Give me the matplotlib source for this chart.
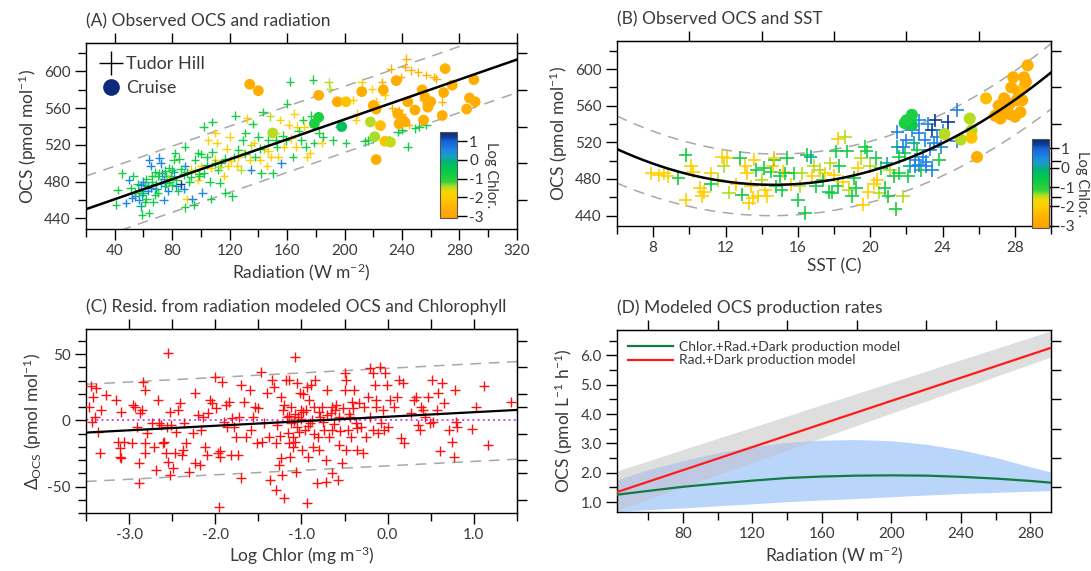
import numpy as np
import matplotlib
matplotlib.use('Agg')
import matplotlib.pyplot as plt
from matplotlib.colors import LinearSegmentedColormap, Normalize
from matplotlib.cm import ScalarMappable
from matplotlib.lines import Line2D
from matplotlib.ticker import MultipleLocator, NullFormatter, FormatStrFormatter

plt.rcParams['font.family'] = ['Lato', 'DejaVu Sans']
plt.rcParams['mathtext.fontset'] = 'custom'
plt.rcParams['mathtext.rm'] = 'Lato'
plt.rcParams['mathtext.it'] = 'Lato:italic'
plt.rcParams['axes.unicode_minus'] = False
TXT = '#3a3a3a'

# ---- panel A: Tudor Hill crosses (radiation, OCS, log chlor)
tudor_a = [
    (41, 455, -0.8), (42, 471, -0.8), (45, 489, -0.9), (48, 457, 0.55), (50, 482, 0.5), (51, 473, -0.7),
    (53, 486, -0.8), (54, 464, 0.6), (56, 477, -0.8), (57, 460, 0.5), (58, 453, 0.05), (59, 444, -0.8),
    (60, 468, -0.7), (62, 461, -0.9), (63, 475, 0.1), (64, 446, -0.8), (64, 504, 0.55), (65, 497, 0.6),
    (66, 486, -0.8), (68, 466, -0.7), (69, 477, -0.8), (70, 486, -0.9), (71, 506, 0.5), (72, 500, 0.55),
    (73, 489, 0.6), (74, 460, 0.5), (75, 475, 0.05), (76, 486, -0.8), (77, 470, 0.55), (78, 480, -0.7),
    (80, 493, -0.8), (81, 504, -0.9), (82, 511, -0.8), (83, 475, 0.5), (84, 470, -0.8), (86, 477, 1.25),
    (88, 488, -0.8), (89, 497, 0.55), (89, 518, -0.7), (89, 452, -0.8), (90, 461, -2.0), (92, 480, -0.8),
    (93, 493, -2.0), (94, 461, 0.55), (95, 455, -0.8), (96, 504, -0.8), (98, 511, -0.7), (98, 482, -2.0),
    (99, 486, -0.9), (100, 497, -2.0), (101, 468, 0.5), (102, 540, -0.8), (102, 489, -0.8), (104, 507, -0.8),
    (105, 525, -2.0), (106, 480, -0.8), (107, 495, -2.0), (107, 461, -0.8), (108, 545, -0.8), (110, 533, -2.0),
    (110, 504, -2.0), (111, 522, -2.0), (112, 493, -0.8), (113, 479, -0.8), (114, 500, -0.8), (116, 486, -2.0),
    (117, 468, -0.8), (118, 516, -2.0), (119, 497, -2.0), (120, 529, -2.0), (122, 464, -0.8), (123, 507, -0.8),
    (124, 552, -0.8), (125, 497, -2.0), (126, 507, -2.0), (128, 493, -1.45), (129, 525, -0.8), (130, 511, -2.0),
    (131, 533, -0.8), (132, 549, -2.0), (134, 504, -2.0), (135, 493, 0.55), (136, 543, -0.8), (137, 522, -2.0),
    (138, 507, -0.8), (140, 529, -0.8), (141, 504, -2.0), (142, 489, -0.8), (143, 556, -0.8), (144, 516, -1.45),
    (146, 497, -2.0), (147, 525, -0.8), (148, 551, -1.45), (149, 507, -2.0), (150, 489, -0.8), (152, 533, -2.0),
    (153, 518, -0.8), (154, 507, -2.0), (155, 547, -2.0), (156, 500, 0.55), (158, 518, -2.0), (159, 525, -0.8),
    (160, 565, -0.8), (161, 542, -2.0), (162, 589, -0.8), (164, 507, -0.8), (165, 554, -2.0), (166, 518, -2.0),
    (167, 540, -2.0), (170, 525, -0.8), (171, 547, -0.8), (172, 540, -2.0), (173, 518, -0.8), (174, 507, -2.0),
    (176, 511, -2.0), (177, 552, -0.8), (178, 591, -0.8), (179, 522, -0.8), (182, 533, -0.8), (184, 522, -2.0),
    (185, 529, -0.8), (189, 588, -1.45), (190, 581, -1.45), (192, 525, -0.8), (196, 540, -0.8), (201, 522, -0.8),
    (206, 569, -2.0), (208, 547, -2.0), (209, 554, -2.0), (212, 588, -2.0), (214, 524, -0.8), (216, 525, -0.8),
    (219, 581, -2.0), (220, 527, -0.8), (222, 567, -2.0), (226, 588, -2.6), (228, 574, -2.0), (232, 603, -2.6),
    (233, 560, -2.6), (237, 534, -0.8), (238, 558, -2.6), (239, 594, -2.6), (240, 536, -0.8), (242, 605, -2.6),
    (243, 614, -2.6), (244, 518, -0.8), (245, 542, -2.6), (246, 601, -2.6), (249, 538, -0.8), (251, 599, -2.6),
    (252, 540, -0.8), (255, 569, -2.6), (257, 596, -2.6), (258, 569, -2.6), (257, 542, -0.8), (262, 594, -2.6),
    (264, 592, -2.6), (268, 567, -2.6), (240, 554, -2.6),
    (57, 470, -0.8), (59, 466, 0.05), (61, 476, -0.8), (63, 470, 0.55), (66, 480, -0.8), (69, 472, 0.05),
    (71, 489, -0.8), (74, 483, 0.55), (76, 478, -0.8), (79, 486, -0.8), (81, 490, 0.05), (83, 482, -0.8),
    (86, 494, -0.8), (90, 490, -0.8), (93, 485, -0.8), (96, 492, -1.45), (99, 488, -0.8), (104, 498, -0.8),
    (110, 500, -0.8), (113, 496, -1.45), (117, 505, -0.8), (121, 503, -2.0), (126, 515, -0.8), (131, 510, -0.8),
    (135, 520, -1.45), (141, 516, -0.8), (147, 513, -2.0), (152, 525, -0.8), (157, 530, -0.8), (163, 527, -2.0),
    (168, 535, -0.8), (60, 480, 0.55), (54, 468, -0.8), (52, 462, 0.55), (67, 458, -0.8), (78, 495, -0.8),
    (85, 505, -0.8), (88, 472, 0.55), (100, 510, -0.8), (108, 512, -0.8),
    (62, 483, -0.8), (65, 473, 0.55), (68, 490, -0.8), (70, 468, -0.8), (72, 478, 0.05), (75, 492, -0.8),
    (77, 484, -1.45), (80, 476, -0.8), (58, 476, 0.55), (61, 458, -0.8),
]

# ---- panel A: cruise circles (radiation, OCS, log chlor)
cruise_a = [
    (134, 586, -2.7), (140, 579, -2.7), (182, 574, -2.7), (195, 567, -2.8), (201, 567, -2.2), (212, 578, -2.7),
    (220, 563, -2.7), (222, 559, -2.7), (227, 580, -2.7), (225, 541, -2.3), (236, 590, -2.8), (237, 554, -2.7),
    (238, 543, -2.7), (240, 548, -2.7), (244, 567, -2.7), (249, 558, -2.7), (254, 580, -2.7), (256, 572, -2.7),
    (260, 567, -2.7), (258, 561, -2.7), (255, 547, -2.7), (270, 603, -2.6), (269, 577, -2.7), (268, 552, -2.7),
    (275, 585, -2.6), (290, 591, -2.7), (287, 571, -2.7), (285, 559, -2.7), (291, 567, -2.7), (222, 504, -2.7),
    (228, 524, -2.2), (232, 523, -1.5), (218, 545, -1.45), (221, 529, -1.4), (198, 540, -0.3), (179, 543, -0.9),
    (182, 550, -0.9), (150, 533, -1.45), (242, 545, -2.7), (258, 565, -2.7),
]
fit_a_x = [20, 320]
fit_a_y = [450.0, 612.9]
band_a = 36.0

# ---- panel B: Tudor Hill crosses (SST, OCS, log chlor)
tudor_b = [
    (7.9, 486, -2.0), (8.3, 484, -2.0), (8.6, 486, -2.0), (8.8, 483, -2.0), (9.4, 481, -0.8), (9.8, 506, -0.8),
    (9.8, 457, -2.0), (10.1, 494, -2.0), (10.2, 488, -2.0), (10.6, 470, -2.0), (10.7, 461, -2.0), (10.8, 466, -2.0),
    (11.2, 474, -0.8), (11.2, 486, -2.0), (11.6, 479, -1.45), (11.8, 504, -2.0), (11.9, 494, -1.45), (12.1, 503, -2.0),
    (12.2, 465, -1.45), (12.6, 474, -2.0), (12.8, 503, -0.8), (12.9, 463, -0.8), (13.1, 494, -2.0), (13.2, 486, -2.0),
    (13.3, 454, -2.0), (13.4, 472, -2.0), (13.5, 459, -2.0), (13.6, 501, -2.0), (13.7, 490, -0.8), (13.8, 461, -2.0),
    (14.0, 479, -1.45), (14.1, 492, -0.8), (14.2, 468, -2.0), (14.3, 461, -2.0), (14.5, 488, -0.8), (14.6, 494, -2.0),
    (14.7, 501, -0.8), (14.7, 503, -2.0), (14.8, 472, -0.8), (15.0, 483, -0.8), (15.1, 468, -0.8), (15.2, 488, -2.0),
    (15.3, 486, -0.8), (15.4, 503, -0.8), (15.6, 474, -2.0), (15.8, 486, -0.8), (16.0, 457, -0.8), (16.1, 472, -1.45),
    (16.2, 486, -1.45), (16.4, 443, -0.8), (16.5, 506, -0.8), (16.7, 504, 0.05), (16.8, 483, -2.0), (16.9, 494, -1.45),
    (17.0, 472, -0.8), (17.2, 490, -1.45), (17.4, 479, -0.8), (17.5, 486, -2.0), (17.7, 466, -0.8), (17.8, 497, -1.45),
    (17.9, 465, -0.8), (18.0, 484, -2.0), (18.1, 510, -0.8), (18.2, 524, -2.0), (18.2, 472, -0.8), (18.3, 494, -0.8),
    (18.5, 477, -2.0), (18.6, 526, -1.45), (18.7, 510, -0.8), (18.8, 468, -1.45), (19.0, 461, -0.8), (19.1, 481, -0.8),
    (19.2, 470, -0.8), (19.3, 492, -2.0), (19.5, 503, -1.45), (19.6, 452, -2.0), (19.7, 515, -0.8), (19.8, 510, -0.8),
    (19.9, 466, -2.0), (20.0, 494, -1.45), (20.2, 475, -2.0), (20.3, 503, -0.8), (20.4, 479, -2.0), (20.5, 465, -1.45),
    (20.6, 492, -0.8), (20.8, 470, -0.8), (20.9, 497, 0.05), (21.0, 461, -0.8), (21.1, 490, -1.45), (21.3, 483, -0.8),
    (21.4, 447, -0.8), (21.5, 515, 0.05), (21.6, 504, -0.8), (21.6, 486, -0.8), (21.8, 461, -1.45), (21.9, 508, -0.8),
    (22.1, 483, -0.8), (22.2, 494, 0.05), (22.3, 533, 0.55), (22.4, 519, 0.05), (22.5, 501, 0.55), (22.6, 512, -0.8),
    (22.7, 530, 0.55), (22.7, 544, 0.55), (22.8, 490, -0.8), (22.9, 504, 0.55), (23.0, 522, 0.55), (23.1, 499, 0.55),
    (23.2, 540, 0.55), (23.3, 512, 0.55), (23.4, 533, 1.25), (23.5, 519, 0.55), (23.6, 544, 1.25), (23.7, 526, 0.55),
    (23.8, 501, -0.8), (23.9, 515, 0.55), (24.0, 533, 0.55), (24.3, 542, 1.25), (24.8, 555, 0.55), (24.8, 521, 0.55),
    (21.8, 515, 0.55), (21.5, 531, 0.55), (22.0, 522, 0.55), (22.5, 494, 0.55), (23.1, 494, 0.55), (23.4, 490, 0.55),
    (22.7, 495, 0.55),
]

# ---- panel B: cruise circles (SST, OCS, log chlor)
cruise_b = [
    (21.9, 541, -0.9), (22.3, 550, -0.9), (22.3, 539, -0.6), (22.0, 544, -0.9), (24.1, 529, -1.45), (25.0, 523, -1.45),
    (25.5, 546, -1.45), (25.6, 533, -1.45), (25.6, 525, -2.2), (25.9, 504, -2.7), (26.4, 568, -2.3), (26.9, 549, -2.7),
    (27.2, 546, -2.7), (27.3, 557, -2.7), (27.4, 568, -2.7), (27.7, 562, -2.7), (27.8, 580, -2.7), (27.9, 591, -2.7),
    (28.0, 548, -2.7), (28.1, 566, -2.7), (28.2, 575, -2.7), (28.3, 553, -2.7), (28.5, 591, -2.7), (28.5, 580, -2.3),
    (28.6, 586, -2.7), (28.7, 604, -2.6), (28.4, 566, -2.7), (27.7, 551, -2.7), (27.1, 560, -2.7),
]
fit_b_x = [6, 10, 14.65, 20, 24, 28, 30]
fit_b_y = [512.6, 484.9, 473.6, 488.5, 519.1, 566.4, 596.4]
upper_b_x = [6, 15, 30]
upper_b_y = [548.7, 507.2, 627.8]
lower_b_x = [6, 15, 30]
lower_b_y = [475.4, 440.0, 556.3]

# ---- panel C: residuals vs log chlor
resid_c = [
    (-3.46, 10.5), (-3.44, 26.1), (-3.42, 18), (-3.39, 2.9), (-3.38, 24.3), (-3.36, -8.4), (-3.34, -24.8),
    (-3.33, 8), (-3.43, -0.9), (-3.27, 19.3), (-3.15, 15.5), (-3.13, -16), (-3.11, -21), (-3.1, -27.3),
    (-3.09, -28.6), (-3.09, 6.7), (-3.06, -16), (-2.97, -16.8), (-2.95, 11.7), (-2.93, 10.5), (-2.91, -4.7),
    (-2.89, -32.4), (-2.88, -47.5), (-2.87, 5.4), (-2.85, 7.9), (-2.84, 29.3), (-2.82, 23), (-2.81, -24.8),
    (-2.81, -17.3), (-2.79, -9.7), (-2.73, -2.1), (-2.71, -19.8), (-2.69, -37.4), (-2.67, 15.5), (-2.65, -2.1),
    (-2.63, -3.4), (-2.61, -17.3), (-2.59, -16), (-2.57, -24.8), (-2.56, -4.7), (-2.55, 50.8), (-2.55, -31.1),
    (-2.53, -41.2), (-2.53, 6.7), (-2.51, -3.4), (-2.49, -36.1), (-2.47, -24.8), (-2.45, -8.4), (-2.43, 7.9),
    (-2.41, 13), (-2.39, -26), (-2.38, -22.3), (-2.36, -2.1), (-2.34, -17.3), (-2.3, -38.7), (-2.26, -9.7),
    (-2.24, 20.5), (-2.23, -32.4), (-2.2, 4.2), (-2.18, -33.6), (-2.16, -7.2), (-2.14, 2.9), (-2.12, -19.8),
    (-2.1, -26), (-2.08, 5.4), (-2.06, 15.5), (-2.04, 13), (-2.0, 32.6), (-1.99, 9.2), (-1.97, -24.8),
    (-1.96, -65.1), (-1.95, -27.3), (-1.94, -23.5), (-1.92, 29.3), (-1.9, -0.9), (-1.88, 11.7), (-1.86, -4.7),
    (-1.84, 14.2), (-1.82, -26), (-1.8, 1.6), (-1.78, -4.7), (-1.76, -12.2), (-1.74, -26), (-1.72, 2.9),
    (-1.7, 26.8), (-1.7, -43.7), (-1.67, 14.2), (-1.64, -12.2), (-1.6, 23), (-1.58, -7.2), (-1.56, 2.9),
    (-1.54, 10.5), (-1.52, -17.3), (-1.5, 9.2), (-1.47, 36.9), (-1.46, -16), (-1.44, -2.1), (-1.4, 20.5),
    (-1.38, -12.2), (-1.36, -45), (-1.34, 30.6), (-1.32, 25.6), (-1.3, -52.5), (-1.28, -3.4), (-1.26, -33.6),
    (-1.24, 18), (-1.24, -28.6), (-1.22, -41.2), (-1.21, 7.9), (-1.2, -58.8), (-1.18, 30.6), (-1.17, 2.9),
    (-1.16, -9.7), (-1.15, -17.3), (-1.14, 30.6), (-1.13, -27.3), (-1.12, 10.5), (-1.1, -12.2), (-1.09, -0.6),
    (-1.08, 48.2), (-1.07, -16), (-1.06, -38.7), (-1.05, 28.1), (-1.04, 2.9), (-1.03, -8.4), (-1.02, 20.5),
    (-1.01, 7.9), (-0.99, -22.3), (-0.98, 6.7), (-0.96, -7.2), (-0.94, 25.6), (-0.93, -62.1), (-0.92, -27.3),
    (-0.91, 15.5), (-0.9, -2.1), (-0.89, 26.8), (-0.87, -19.8), (-0.86, 10.5), (-0.84, 30.6), (-0.82, -47.5),
    (-0.81, -12.2), (-0.8, -22.3), (-0.78, 2.9), (-0.76, 10.5), (-0.74, -7.2), (-0.72, -46.2), (-0.72, -29.8),
    (-0.7, 23), (-0.68, -12.2), (-0.66, 5.4), (-0.65, -39.9), (-0.64, -7.2), (-0.61, 7.9), (-0.58, -45),
    (-0.57, -18.5), (-0.56, 2.9), (-0.53, -32.4), (-0.52, 9.2), (-0.5, 23), (-0.49, 35.6), (-0.48, 30.6),
    (-0.48, -22.3), (-0.46, -7.2), (-0.44, 2.9), (-0.42, -12.2), (-0.41, 14.2), (-0.39, 23), (-0.37, -2.1),
    (-0.36, -22.3), (-0.33, 13), (-0.31, -4.7), (-0.29, -24.8), (-0.27, 10.5), (-0.25, -12.2), (-0.23, 18),
    (-0.21, 2.9), (-0.2, 39.4), (-0.17, 35.6), (-0.17, -7.2), (-0.15, 26.8), (-0.13, 10.5), (-0.13, 15.5),
    (-0.11, -9.7), (-0.09, 40.2), (-0.08, -2.1), (-0.05, 7.9), (-0.04, -7.2), (-0.03, 35.6), (-0.01, 26.8),
    (0.01, -4.7), (0.03, 15.5), (0.07, 10.5), (0.11, 18), (0.13, 30.6), (0.15, -13.5), (0.18, 28.1),
    (0.19, -17.3), (0.27, 5.4), (0.31, 15.5), (0.33, 18), (0.35, -3.4), (0.37, -7.2), (0.39, 10.5),
    (0.41, 7.9), (0.43, 2.9), (0.47, 18), (0.49, -2.1), (0.51, 30.6), (0.53, -0.9), (0.57, 7.9),
    (0.59, 20.5), (0.61, -23.5), (0.63, 28.1), (0.65, 13), (0.71, -7.2), (0.75, -16), (0.77, -27.3),
    (0.78, 23), (0.79, -0.9), (0.81, -4.7), (0.98, -6.7), (1.02, 10.5), (1.12, 26.3), (1.17, -18.5),
    (1.43, 13.7),
    (-1.15, 3), (-1.12, -2), (-1.08, 5), (-1.05, -5), (-1.0, 1), (-0.95, 8), (-0.92, -4), (-0.88, 0),
    (-0.85, -10), (-0.8, 6), (-0.75, -1), (-0.7, 4), (-0.65, 10), (-0.62, -3), (-0.6, 12), (-0.55, -8),
    (-0.45, 5), (-0.4, 9), (-0.35, -6), (-1.25, -12), (-1.3, -17), (-1.2, 12), (-1.1, -20), (-0.98, 20),
]
fit_c_x = [-3.5, 1.5]
fit_c_y = [-9.2, 7.9]
upper_c_y = [27.3, 44.5]
lower_c_y = [-46.2, -29.3]

# ---- panel D: modeled production rates
rad_d = [42, 60, 80, 100, 120, 140, 160, 180, 200, 220, 240, 260, 280, 292]
green_d = [1.25, 1.38, 1.52, 1.63, 1.73, 1.82, 1.87, 1.90, 1.91, 1.90, 1.86, 1.80, 1.72, 1.66]
blue_hi = [1.75, 2.10, 2.40, 2.68, 2.88, 3.03, 3.11, 3.13, 3.09, 2.97, 2.78, 2.52, 2.20, 2.02]
blue_lo = [0.68, 0.74, 0.80, 0.87, 0.94, 1.01, 1.07, 1.12, 1.18, 1.24, 1.29, 1.33, 1.37, 1.39]
red_x = [42, 292]
red_y = [1.34, 6.26]
gray_hi = [2.06, 2.40, 2.79, 3.17, 3.55, 3.93, 4.32, 4.70, 5.08, 5.46, 5.85, 6.23, 6.61, 6.84]
gray_lo = [0.72, 1.10, 1.51, 1.93, 2.35, 2.77, 3.19, 3.61, 4.03, 4.44, 4.86, 5.28, 5.70, 5.95]

# colour scale for log chlorophyll
vmin, vmax = -3.1, 1.46
stops = [(-3.1, '#ffa200'), (-2.5, '#ffb400'), (-2.0, '#ffcf00'), (-1.65, '#f0d800'), (-1.4, '#a6dc2a'),
         (-1.15, '#2ed13c'), (-0.5, '#00c94a'), (-0.05, '#00b27c'), (0.2, '#17a0c4'), (0.5, '#1f88e6'),
         (1.0, '#1663d6'), (1.2, '#0e3f99'), (1.46, '#0b2a6c')]
cmap = LinearSegmentedColormap.from_list('chl', [((v - vmin) / (vmax - vmin), c) for v, c in stops])
norm = Normalize(vmin, vmax)

fig = plt.figure(figsize=(10.91, 5.71), dpi=100)
axA = fig.add_axes([0.0788, 0.599, 0.395, 0.325])
axB = fig.add_axes([0.5655, 0.604, 0.398, 0.324])
axC = fig.add_axes([0.0788, 0.1016, 0.395, 0.322])
axD = fig.add_axes([0.5655, 0.1033, 0.398, 0.319])


def style(ax, xmaj, xmin, ymaj, ymin, top_ticks, right_ticks):
    ax.xaxis.set_major_locator(MultipleLocator(xmaj))
    ax.xaxis.set_minor_locator(MultipleLocator(xmin))
    ax.yaxis.set_major_locator(MultipleLocator(ymaj))
    ax.yaxis.set_minor_locator(MultipleLocator(ymin))
    ax.tick_params(which='major', direction='out', length=8, width=1, labelsize=11, colors='black',
                   labelcolor=TXT, pad=3)
    ax.tick_params(which='minor', direction='out', length=5.5, width=1, colors='black')
    for s in ax.spines.values():
        s.set_linewidth(1)
    sx = ax.secondary_xaxis('top')
    sx.set_xticks(top_ticks)
    sx.xaxis.set_major_formatter(NullFormatter())
    sx.tick_params(direction='out', length=7, width=1)
    sy = ax.secondary_yaxis('right')
    sy.set_yticks(right_ticks)
    sy.yaxis.set_major_formatter(NullFormatter())
    sy.tick_params(direction='out', length=7, width=1)


dash = dict(color='#a8a8a8', lw=1.1, ls=(0, (7, 5)))

# ---- A
x, y, c = zip(*tudor_a)
axA.scatter(x, y, c=c, cmap=cmap, norm=norm, marker='+', s=38, linewidths=1.0, zorder=3)
x, y, c = zip(*cruise_a)
axA.scatter(x, y, c=c, cmap=cmap, norm=norm, marker='o', s=60, linewidths=0, zorder=4)
axA.plot(fit_a_x, fit_a_y, color='black', lw=1.8, zorder=5)
axA.plot(fit_a_x, np.array(fit_a_y) + band_a, zorder=2, **dash)
axA.plot(fit_a_x, np.array(fit_a_y) - band_a, zorder=2, **dash)
axA.set_xlim(20, 320)
axA.set_ylim(428.5, 630.5)
style(axA, 40, 20, 40, 20, np.arange(40, 321, 40), [460, 500, 540, 580, 620])
axA.set_xlabel('Radiation (W m$^{-2}$)', fontsize=12.5, color=TXT, labelpad=2)
axA.set_ylabel('OCS (pmol mol$^{-1}$)', fontsize=12.5, color=TXT, labelpad=4)
axA.set_title('(A) Observed OCS and radiation', loc='left', fontsize=12.5, color=TXT, pad=12)
leg_h = [Line2D([], [], ls='none', marker='+', color='black', markersize=17, markeredgewidth=1.0),
         Line2D([], [], ls='none', marker='o', color='#0b2a7a', markersize=11)]
axA.legend(leg_h, ['Tudor Hill', 'Cruise'], loc='upper left', frameon=False, fontsize=13,
           handletextpad=0.1, borderaxespad=0.3, labelspacing=0.45, handlelength=1.4, labelcolor=TXT)

# ---- B
x, y, c = zip(*tudor_b)
axB.scatter(x, y, c=c, cmap=cmap, norm=norm, marker='+', s=95, linewidths=1.2, zorder=3)
x, y, c = zip(*cruise_b)
axB.scatter(x, y, c=c, cmap=cmap, norm=norm, marker='o', s=75, linewidths=0, zorder=4)
xs = np.linspace(6, 30, 200)
axB.plot(xs, np.polyval(np.polyfit(fit_b_x, fit_b_y, 2), xs), color='black', lw=1.8, zorder=5)
axB.plot(xs, np.polyval(np.polyfit(upper_b_x, upper_b_y, 2), xs), zorder=2, **dash)
axB.plot(xs, np.polyval(np.polyfit(lower_b_x, lower_b_y, 2), xs), zorder=2, **dash)
axB.set_xlim(6, 30)
axB.set_ylim(428.5, 630.5)
style(axB, 4, 2, 40, 20, [10, 14, 18, 22, 26], [460, 500, 540, 580, 620])
axB.set_xlabel('SST (C)', fontsize=12.5, color=TXT, labelpad=2)
axB.set_ylabel('OCS (pmol mol$^{-1}$)', fontsize=12.5, color=TXT, labelpad=4)
axB.set_title('(B) Observed OCS and SST', loc='left', fontsize=12.5, color=TXT, pad=12)

# colour bars
for pos in ([0.4035, 0.618, 0.0156, 0.150], [0.9455, 0.601, 0.0156, 0.155]):
    cax = fig.add_axes(pos)
    cb = fig.colorbar(ScalarMappable(norm=norm, cmap=cmap), cax=cax, ticks=[-3, -2, -1, 0, 1])
    cb.ax.set_yticklabels(['-3', '-2', '-1', '0', '1'])
    cb.ax.tick_params(direction='out', length=7, width=1, labelsize=11, labelcolor=TXT, pad=1.5)
    cb.outline.set_linewidth(0.8)
    cb.outline.set_edgecolor('#555555')
    cb.set_label('Log Chlor.', rotation=270, fontsize=10.5, color=TXT, labelpad=10)

# ---- C
x, y = zip(*resid_c)
axC.scatter(x, y, color='#ff1010', marker='+', s=42, linewidths=1.0, zorder=3)
axC.axhline(0, color='#c84ef0', ls=':', lw=1.4, zorder=2)
axC.plot(fit_c_x, fit_c_y, color='black', lw=1.6, zorder=5)
axC.plot(fit_c_x, upper_c_y, zorder=2, **dash)
axC.plot(fit_c_x, lower_c_y, zorder=2, **dash)
axC.set_xlim(-3.5, 1.5)
axC.set_ylim(-70, 69)
style(axC, 1.0, 0.5, 50, 10, np.arange(-3.0, 1.01, 0.5), [-60, -40, -30, -10, 10, 20, 40, 60])
axC.xaxis.set_major_formatter(FormatStrFormatter('%.1f'))
axC.set_xlabel('Log Chlor (mg m$^{-3}$)', fontsize=12.5, color=TXT, labelpad=2)
axC.set_ylabel('$\\Delta_{\\mathrm{OCS}}$ (pmol mol$^{-1}$)', fontsize=12.5, color=TXT, labelpad=2)
axC.set_title('(C) Resid. from radiation modeled OCS and Chlorophyll', loc='left', fontsize=12.5,
              color=TXT, pad=12)

# ---- D
rad = np.array(rad_d)
ghi, glo, bhi, blo = map(np.array, (gray_hi, gray_lo, blue_hi, blue_lo))
axD.fill_between(rad, glo, ghi, color='#dedede', lw=0, zorder=1)
axD.fill_between(rad, blo, bhi, color='#b9d6fa', lw=0, zorder=1)
ov_lo, ov_hi = np.maximum(glo, blo), np.minimum(ghi, bhi)
axD.fill_between(rad, ov_lo, ov_hi, where=ov_hi > ov_lo, interpolate=True, color='#c0c9e2', lw=0, zorder=2)
axD.plot(rad, green_d, color='#137a44', lw=1.6, zorder=4,
         label='Chlor.+Rad.+Dark production model')
axD.plot(red_x, red_y, color='#ff1a1a', lw=1.6, zorder=4, label='Rad.+Dark production model')
axD.set_xlim(42, 292)
axD.set_ylim(0.66, 6.87)
style(axD, 40, 20, 1.0, 0.5, np.arange(60, 281, 40), np.arange(1.5, 6.6, 1.0))
axD.xaxis.set_major_locator(plt.FixedLocator(np.arange(80, 281, 40)))
axD.yaxis.set_major_formatter(FormatStrFormatter('%.1f'))
axD.set_xlabel('Radiation (W m$^{-2}$)', fontsize=12.5, color=TXT, labelpad=2)
axD.set_ylabel('OCS (pmol L$^{-1}$ h$^{-1}$)', fontsize=12.5, color=TXT, labelpad=4)
axD.set_title('(D) Modeled OCS production rates', loc='left', fontsize=12.5, color=TXT, pad=12)
axD.legend(loc='upper left', frameon=False, fontsize=10, handlelength=3.2, handletextpad=0.5,
           labelspacing=0.1, borderaxespad=0.4, labelcolor=TXT)

fig.savefig('out.png', dpi=100)
